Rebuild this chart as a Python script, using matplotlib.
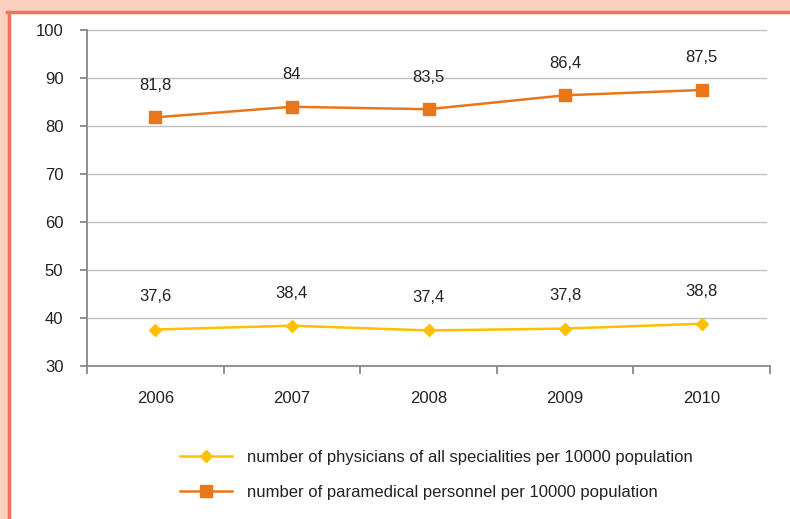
import matplotlib.pyplot as plt
from matplotlib.patches import Rectangle
from matplotlib.lines import Line2D

plt.rcParams['font.family'] = ['Liberation Sans', 'DejaVu Sans']

years = ['2006', '2007', '2008', '2009', '2010']
physicians = [37.6, 38.4, 37.4, 37.8, 38.8]
paramedical = [81.8, 84, 83.5, 86.4, 87.5]
phys_labels = ['37,6', '38,4', '37,4', '37,8', '38,8']
para_labels = ['81,8', '84', '83,5', '86,4', '87,5']
names = ['number of physicians of all specialities per 10000 population',
         'number of paramedical personnel per 10000 population']

yellow = '#FFC000'
orange = '#E8761A'

fig = plt.figure(figsize=(7.9, 5.19), dpi=100)
fig.patch.set_facecolor('#FCD0C0')
# white panel with red edge on top and left
fig.patches.append(Rectangle((10/790, 0), 1, 1 - 13/519, transform=fig.transFigure,
                             facecolor='white', edgecolor='none', zorder=-5))
fig.add_artist(Line2D([8.5/790, 8.5/790], [0, 1 - 11.5/519], color='#F07260', lw=2.5,
                      transform=fig.transFigure))
fig.add_artist(Line2D([7/790, 1], [1 - 11.5/519, 1 - 11.5/519], color='#F07260', lw=2.5,
                      transform=fig.transFigure))

ax = fig.add_axes([87/790, 1 - 366/519, (770 - 87)/790, (366 - 30)/519])
ax.set_facecolor('none')
x = list(range(len(years)))
ax.plot(x, physicians, color=yellow, lw=1.8, marker='D', ms=6.5, zorder=3)
ax.plot(x, paramedical, color=orange, lw=1.8, marker='s', ms=8, zorder=3)

for i in x:
    ax.text(i, paramedical[i] + 6.7, para_labels[i], ha='center', va='center', fontsize=12, color='#222222')
    ax.text(i, physicians[i] + 6.8, phys_labels[i], ha='center', va='center', fontsize=12, color='#222222')

ax.set_xlim(-0.5, 4.5)
ax.set_ylim(30, 100)
ax.set_yticks(range(30, 101, 10))
ax.set_xticks(x)
ax.set_xticklabels(years)
ax.set_xticks([i - 0.5 for i in range(6)], minor=True)
for y in range(40, 101, 10):
    ax.plot([-0.5, 4.47], [y, y], color='#C0C0C0', lw=1, zorder=1, clip_on=False)

for s in ['top', 'right']:
    ax.spines[s].set_visible(False)
for s in ['left', 'bottom']:
    ax.spines[s].set_color('#888888')
    ax.spines[s].set_linewidth(1.3)
ax.tick_params(axis='y', length=5, width=1.3, color='#888888', labelsize=12, labelcolor='#222222', pad=12)
ax.tick_params(axis='x', which='major', length=0, labelsize=12, labelcolor='#222222', pad=18)
ax.tick_params(axis='x', which='minor', length=6, width=1.3, color='#888888', direction='out')

handles = [Line2D([], [], color=yellow, lw=1.8, marker='D', ms=6.5),
           Line2D([], [], color=orange, lw=1.8, marker='s', ms=8)]
fig.legend(handles, names, loc='upper left', bbox_to_anchor=(165/790, 1 - 435/519),
           frameon=False, fontsize=12, handlelength=3.1, labelspacing=1.17, handletextpad=0.9,
           labelcolor='#222222')

fig.savefig('out.png', dpi=100, facecolor=fig.get_facecolor())
